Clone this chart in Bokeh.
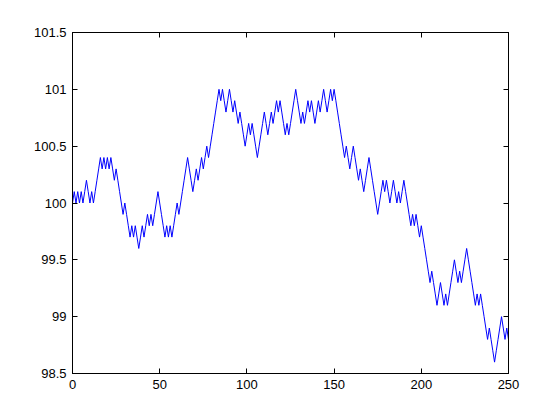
from bokeh.plotting import figure
from bokeh.models import FixedTicker, LinearAxis, Range1d
from bokeh.embed import file_html
from bokeh.resources import INLINE

price = [
    100.0, 100.1, 100.0, 100.1, 100.0, 100.1, 100.0, 100.1, 100.2, 100.1,
    100.0, 100.1, 100.0, 100.1, 100.2, 100.3, 100.4, 100.3, 100.4, 100.3,
    100.4, 100.3, 100.4, 100.3, 100.2, 100.3, 100.2, 100.1, 100.0, 99.9,
    100.0, 99.9, 99.8, 99.7, 99.8, 99.7, 99.8, 99.7, 99.6, 99.7,
    99.8, 99.7, 99.8, 99.9, 99.8, 99.9, 99.8, 99.9, 100.0, 100.1,
    100.0, 99.9, 99.8, 99.7, 99.8, 99.7, 99.8, 99.7, 99.8, 99.9,
    100.0, 99.9, 100.0, 100.1, 100.2, 100.3, 100.4, 100.3, 100.2, 100.1,
    100.2, 100.3, 100.2, 100.3, 100.4, 100.3, 100.4, 100.5, 100.4, 100.5,
    100.6, 100.7, 100.8, 100.9, 101.0, 100.9, 101.0, 100.9, 100.8, 100.9,
    101.0, 100.9, 100.8, 100.9, 100.8, 100.7, 100.8, 100.7, 100.6, 100.5,
    100.6, 100.7, 100.6, 100.7, 100.6, 100.5, 100.4, 100.5, 100.6, 100.7,
    100.8, 100.7, 100.6, 100.7, 100.8, 100.7, 100.8, 100.9, 100.8, 100.9,
    100.8, 100.7, 100.6, 100.7, 100.6, 100.7, 100.8, 100.9, 101.0, 100.9,
    100.8, 100.7, 100.8, 100.7, 100.8, 100.9, 100.8, 100.9, 100.8, 100.7,
    100.8, 100.9, 100.8, 100.9, 101.0, 100.9, 100.8, 100.9, 101.0, 100.9,
    101.0, 100.9, 100.8, 100.7, 100.6, 100.5, 100.4, 100.5, 100.4, 100.3,
    100.4, 100.5, 100.4, 100.3, 100.2, 100.3, 100.2, 100.1, 100.2, 100.3,
    100.4, 100.3, 100.2, 100.1, 100.0, 99.9, 100.0, 100.1, 100.2, 100.1,
    100.2, 100.1, 100.0, 100.1, 100.2, 100.1, 100.0, 100.1, 100.0, 100.1,
    100.2, 100.1, 100.0, 99.9, 99.8, 99.9, 99.8, 99.9, 99.8, 99.7,
    99.8, 99.7, 99.6, 99.5, 99.4, 99.3, 99.4, 99.3, 99.2, 99.1,
    99.2, 99.3, 99.2, 99.1, 99.2, 99.1, 99.2, 99.3, 99.4, 99.5,
    99.4, 99.3, 99.4, 99.3, 99.4, 99.5, 99.6, 99.5, 99.4, 99.3,
    99.2, 99.1, 99.2, 99.1, 99.2, 99.1, 99.0, 98.9, 98.8, 98.9,
    98.8, 98.7, 98.6, 98.7, 98.8, 98.9, 99.0, 98.9, 98.8, 98.9,
    98.8,
]
steps = list(range(len(price)))

x_ticks = [0, 50, 100, 150, 200, 250]
x_tick_labels = ["0", "50", "100", "150", "200", "250"]
y_ticks = [98.5, 99.0, 99.5, 100.0, 100.5, 101.0, 101.5]
y_tick_labels = ["98.5", "99", "99.5", "100", "100.5", "101", "101.5"]

FONT = "Liberation Sans"
FSIZE = "13px"

p = figure(width=552, height=412, output_backend="svg", toolbar_location=None,
           x_range=Range1d(0, 250), y_range=Range1d(98.5, 101.5),
           min_border_left=72, min_border_right=44, min_border_top=32,
           min_border_bottom=39)
p.background_fill_color = "white"
p.border_fill_color = "white"
p.grid.visible = False
p.outline_line_color = "black"
p.outline_line_width = 1

p.line(steps, price, line_color="#0000ff", line_width=1)

p.xaxis.ticker = FixedTicker(ticks=x_ticks)
p.yaxis.ticker = FixedTicker(ticks=y_ticks)
p.xaxis.major_label_overrides = {t: s for t, s in zip(x_ticks, x_tick_labels)}
p.yaxis.major_label_overrides = {t: s for t, s in zip(y_ticks, y_tick_labels)}

for ax in (p.xaxis[0], p.yaxis[0]):
    ax.major_tick_in = 5
    ax.major_tick_out = 0
    ax.minor_tick_line_color = None
    ax.axis_line_color = "black"
    ax.major_tick_line_color = "black"
    ax.major_label_text_font = FONT
    ax.major_label_text_font_size = FSIZE
    ax.major_label_text_color = "black"
    ax.major_label_standoff = 6

right = LinearAxis(ticker=FixedTicker(ticks=y_ticks), major_tick_in=5,
                   major_tick_out=0, minor_tick_line_color=None,
                   major_label_text_color=None, axis_line_color="black",
                   major_label_text_font_size="1px")
top = LinearAxis(ticker=FixedTicker(ticks=x_ticks), major_tick_in=5,
                 major_tick_out=0, minor_tick_line_color=None,
                 major_label_text_color=None, axis_line_color="black",
                 major_label_text_font_size="1px")
p.add_layout(right, "right")
p.add_layout(top, "above")

open("out.html", "w").write(file_html(p, INLINE))
